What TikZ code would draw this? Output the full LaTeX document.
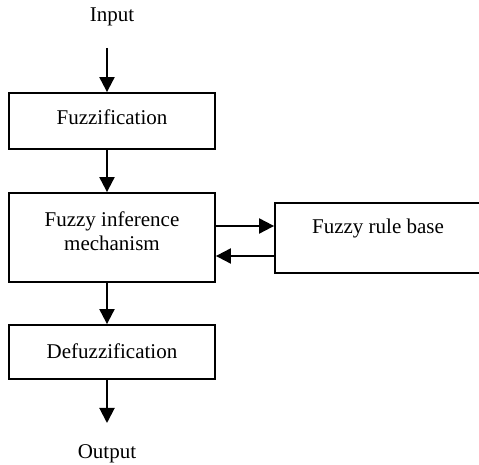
\documentclass[tikz,border=0pt]{standalone}
\usepackage{fontspec}
\setmainfont{Liberation Serif}
\usetikzlibrary{arrows.meta}
\begin{document}
\begin{tikzpicture}[x=0.5pt,y=-0.5pt,
  every node/.style={font=\fontsize{10.5}{12}\selectfont, align=center},
  block/.style={draw, line width=0.9pt, minimum width=103pt, inner sep=0pt},
  arr/.style={line width=1pt, -{Triangle[length=7.5pt,width=7.5pt]}}]
\useasboundingbox (0,0) rectangle (479,465);
\clip (0,0) rectangle (479,465);
\pgfmathsetmacro\ax{107};
% blocks
\node (inp) at (112,17) {Input};
\node[block, minimum height=28pt, text depth=4pt] (fuz) at (112,121) {Fuzzification};
\node[block, minimum height=44.5pt, text depth=6pt] (fim) at (112,237.5) {Fuzzy inference\\mechanism};
\node[block, minimum height=35pt] (rule) at (378,238) {};
\node (rtxt) at (378,228) {Fuzzy rule base};
\node[block, minimum height=27pt, text depth=1pt] (def) at (112,352) {Defuzzification};
\node (out) at (107,454) {Output};
\coordinate (intail) at (\ax,48);
\coordinate (outtip) at (\ax,423);
% arrows
\draw[arr] (intail) -- (intail |- fuz.north);
\draw[arr] (intail |- fuz.south) -- (intail |- fim.north);
\draw[arr] (intail |- fim.south) -- (intail |- def.north);
\draw[arr] (intail |- def.south) -- (outtip);
\draw[arr] ([yshift=5.75pt]fim.east) -- ([yshift=5.75pt]fim.east -| rule.west);
\draw[arr] ([yshift=-9.25pt]fim.east -| rule.west) -- ([yshift=-9.25pt]fim.east);
\end{tikzpicture}
\end{document}
